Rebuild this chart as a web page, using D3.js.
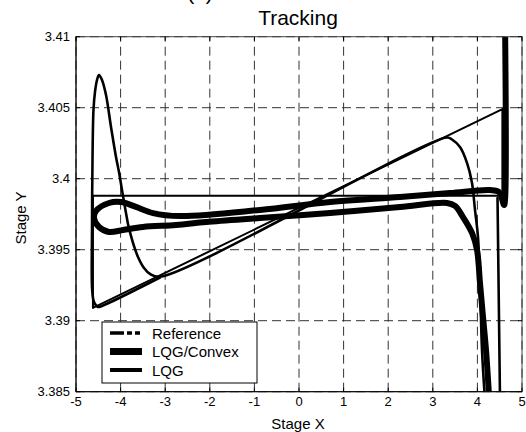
<!DOCTYPE html>
<html>
<head>
<meta charset="utf-8">
<script src="https://cdn.jsdelivr.net/npm/d3@7"></script>
<style>
  html, body { margin: 0; padding: 0; background: #fff; }
  svg { display: block; font-family: "Liberation Sans", Arial, sans-serif; }
</style>
</head>
<body>
<svg id="chart" width="526" height="432"></svg>
<script>
// Axis ticks
const xTicks = [-5, -4, -3, -2, -1, 0, 1, 2, 3, 4, 5];
const yTicks = [3.385, 3.39, 3.395, 3.4, 3.405, 3.41];
const yTickLabels = ["3.385", "3.39", "3.395", "3.4", "3.405", "3.41"];

// Series names for the legend
const seriesNames = ["Reference", "LQG/Convex", "LQG"];

// Reference triangle path (x, y)
const referencePath = [
  [-4.62, 3.3988], [4.56, 3.3988], [4.56, 3.4049], [-4.62, 3.3909], [-4.62, 3.3988]
];

// LQG/Convex trajectory
const convexPath = [
  [4.260, 3.38477], [4.193, 3.38794], [4.126, 3.39026], [4.058, 3.39266],
  [3.991, 3.39498], [3.879, 3.39618], [3.677, 3.39730], [3.498, 3.39808],
  [3.319, 3.39829], [2.265, 3.39801], [0.695, 3.39758], [-0.874, 3.39723],
  [-2.085, 3.39695], [-2.758, 3.39674], [-3.498, 3.39660], [-3.946, 3.39639],
  [-4.260, 3.39625], [-4.484, 3.39660], [-4.596, 3.39723], [-4.552, 3.39773],
  [-4.260, 3.39829], [-3.991, 3.39836], [-3.655, 3.39801], [-3.274, 3.39758],
  [-2.668, 3.39737], [-0.874, 3.39780], [0.695, 3.39836], [2.265, 3.39871],
  [3.386, 3.39899], [4.283, 3.39920], [4.484, 3.39906], [4.597, 3.39815],
  [4.619, 3.39850], [4.619, 3.41118]
];

// LQG trajectory; null breaks the path
const lqgPath = [
  [4.170, 3.38442], [4.103, 3.38794], [4.058, 3.39266], [4.013, 3.39590],
  [3.946, 3.39780], [3.879, 3.39970], [3.767, 3.40111], [3.610, 3.40223],
  [3.431, 3.40276], [3.319, 3.40290], [-3.117, 3.39309], [-3.341, 3.39329],
  [-3.475, 3.39371], [-3.610, 3.39449], [-3.700, 3.39526], [-3.767, 3.39597],
  [-3.834, 3.39681], [-3.879, 3.39758], [-3.969, 3.39920], [-4.036, 3.40047],
  [-4.103, 3.40153], [-4.215, 3.40364], [-4.327, 3.40589], [-4.417, 3.40695],
  [-4.484, 3.40730], [-4.529, 3.40695], [-4.574, 3.40611], [-4.608, 3.40484],
  [-4.630, 3.40132], [-4.641, 3.39639], [-4.637, 3.39216], [-4.596, 3.39132],
  [-4.507, 3.39097], [-4.417, 3.39104], [-3.117, 3.39304],
  null,
  [4.451, 3.39864], [4.507, 3.38442]
];

const svg = d3.select("#chart");
const margin = { left: 76, right: 4, top: 36.7, bottom: 40.3 };
const W = 526, H = 432;
const x = d3.scaleLinear().domain([-5, 5]).range([margin.left, W - margin.right]);
const y = d3.scaleLinear().domain([3.385, 3.41]).range([H - margin.bottom, margin.top]);

// Title, with the panel label above it running off the top edge
svg.append("text").attr("x", 200).attr("y", 0).attr("text-anchor", "middle")
  .attr("font-size", 21).text("(b)");
svg.append("text").attr("x", 298).attr("y", 25).attr("text-anchor", "middle")
  .attr("font-size", 21).text("Tracking");

// Grid
const grid = svg.append("g").attr("stroke", "#333").attr("stroke-width", 1)
  .attr("stroke-dasharray", "9,5");
grid.selectAll("line.gx").data(xTicks).join("line")
  .attr("x1", d => x(d)).attr("x2", d => x(d))
  .attr("y1", y(3.385)).attr("y2", y(3.41));
grid.selectAll("line.gy").data(yTicks).join("line")
  .attr("y1", d => y(d)).attr("y2", d => y(d))
  .attr("x1", x(-5)).attr("x2", x(5));

// Clip region for the data
svg.append("clipPath").attr("id", "plotclip").append("rect")
  .attr("x", x(-5)).attr("y", y(3.41))
  .attr("width", x(5) - x(-5)).attr("height", y(3.385) - y(3.41));

const line = d3.line().defined(d => d !== null).x(d => x(d[0])).y(d => y(d[1]));
const smooth = d3.line().defined(d => d !== null).x(d => x(d[0])).y(d => y(d[1]))
  .curve(d3.curveCatmullRom.alpha(0.5));

const plot = svg.append("g").attr("clip-path", "url(#plotclip)")
  .attr("fill", "none").attr("stroke", "#000")
  .attr("stroke-linejoin", "round").attr("stroke-linecap", "round");
plot.append("path").attr("d", line(referencePath)).attr("stroke-width", 2);
plot.append("path").attr("d", smooth(convexPath)).attr("stroke-width", 6);
plot.append("path").attr("d", smooth(lqgPath)).attr("stroke-width", 2.6);

// Axes box and ticks
const axes = svg.append("g").attr("stroke", "#000").attr("stroke-width", 1);
axes.append("rect").attr("x", x(-5)).attr("y", y(3.41))
  .attr("width", x(5) - x(-5)).attr("height", y(3.385) - y(3.41))
  .attr("fill", "none").attr("stroke", "#444");
axes.append("line").attr("x1", x(-5)).attr("x2", x(-5)).attr("y1", y(3.41)).attr("y2", y(3.385));
axes.append("line").attr("x1", x(-5)).attr("x2", x(5)).attr("y1", y(3.385)).attr("y2", y(3.385));
const tl = 4;
xTicks.forEach(t => {
  axes.append("line").attr("x1", x(t)).attr("x2", x(t)).attr("y1", y(3.385)).attr("y2", y(3.385) - tl);
  axes.append("line").attr("x1", x(t)).attr("x2", x(t)).attr("y1", y(3.41)).attr("y2", y(3.41) + tl);
});
yTicks.forEach(t => {
  axes.append("line").attr("x1", x(-5)).attr("x2", x(-5) + tl).attr("y1", y(t)).attr("y2", y(t));
  axes.append("line").attr("x1", x(5)).attr("x2", x(5) - tl).attr("y1", y(t)).attr("y2", y(t));
});

// Tick labels
svg.append("g").selectAll("text").data(xTicks).join("text")
  .attr("x", d => x(d)).attr("y", 406).attr("text-anchor", "middle")
  .attr("font-size", 13).text(d => d);
svg.append("g").selectAll("text").data(yTicks).join("text")
  .attr("x", 70).attr("y", d => y(d) + 4.5).attr("text-anchor", "end")
  .attr("font-size", 13).text((d, i) => yTickLabels[i]);

// Axis labels
svg.append("text").attr("x", 298).attr("y", 429).attr("text-anchor", "middle")
  .attr("font-size", 15).text("Stage X");
svg.append("text").attr("transform", "translate(26,218) rotate(-90)")
  .attr("text-anchor", "middle").attr("font-size", 15).text("Stage Y");

// Legend
const lg = svg.append("g");
lg.append("rect").attr("x", 102).attr("y", 322).attr("width", 155).attr("height", 61)
  .attr("fill", "#fff").attr("stroke", "#000").attr("stroke-width", 1);
const legendStyles = [
  { w: 3.5, dash: "14,3,5,3,5" },
  { w: 7, dash: null },
  { w: 4, dash: null }
];
seriesNames.forEach((name, i) => {
  const cy = 333 + i * 18.5;
  lg.append("line").attr("x1", 110).attr("x2", 142).attr("y1", cy).attr("y2", cy)
    .attr("stroke", "#000").attr("stroke-width", legendStyles[i].w)
    .attr("stroke-dasharray", legendStyles[i].dash);
  lg.append("text").attr("x", 152).attr("y", cy + 5.5).attr("font-size", 15).text(name);
});
</script>
</body>
</html>
